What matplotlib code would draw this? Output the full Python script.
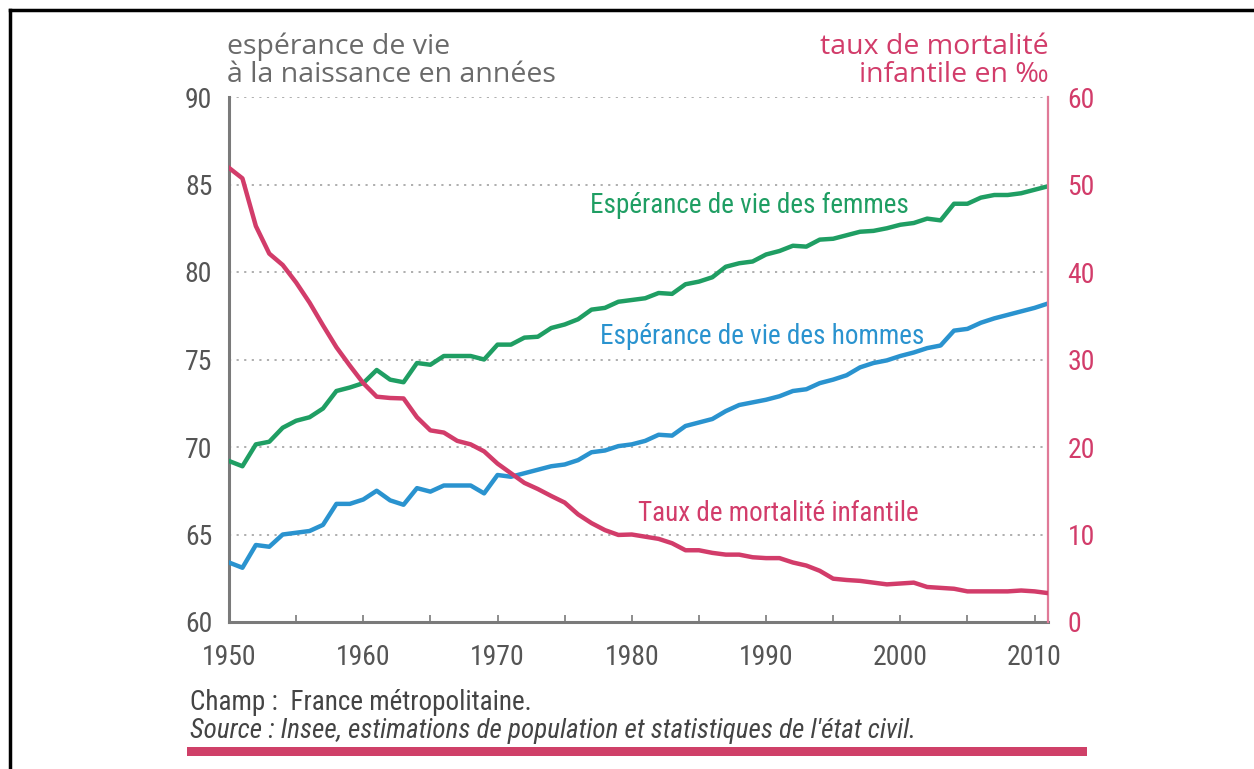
import matplotlib
matplotlib.use("Agg")
import matplotlib.pyplot as plt
from matplotlib import font_manager as fm
from matplotlib.lines import Line2D
from matplotlib.patches import Rectangle

# ---------------- data ----------------
years = list(range(1950, 2012))
women = [69.2, 68.9, 70.15, 70.3, 71.1, 71.5, 71.7, 72.2, 73.2, 73.4,
         73.65, 74.4, 73.85, 73.7, 74.8, 74.7, 75.2, 75.2, 75.2, 75.0,
         75.85, 75.85, 76.25, 76.3, 76.8, 77.0, 77.3, 77.85, 77.95, 78.3,
         78.4, 78.5, 78.8, 78.75, 79.3, 79.45, 79.7, 80.3, 80.5, 80.6,
         81.0, 81.2, 81.5, 81.45, 81.85, 81.9, 82.1, 82.3, 82.35, 82.5,
         82.7, 82.8, 83.05, 82.95, 83.9, 83.9, 84.25, 84.4, 84.4, 84.5,
         84.7, 84.9]
men = [63.4, 63.1, 64.4, 64.3, 65.0, 65.1, 65.2, 65.55, 66.75, 66.75,
       67.0, 67.5, 66.95, 66.7, 67.65, 67.45, 67.8, 67.8, 67.8, 67.35,
       68.4, 68.3, 68.5, 68.7, 68.9, 69.0, 69.25, 69.7, 69.8, 70.05,
       70.15, 70.35, 70.7, 70.65, 71.2, 71.4, 71.6, 72.05, 72.4, 72.55,
       72.7, 72.9, 73.2, 73.3, 73.65, 73.85, 74.1, 74.55, 74.8, 74.95,
       75.2, 75.4, 75.65, 75.8, 76.65, 76.75, 77.1, 77.35, 77.55, 77.75,
       77.95, 78.2]
infant = [51.9, 50.7, 45.25, 42.1, 40.8, 38.8, 36.5, 33.9, 31.4, 29.3,
          27.3, 25.75, 25.6, 25.55, 23.4, 21.9, 21.65, 20.7, 20.3, 19.5,
          18.1, 17.0, 15.9, 15.2, 14.4, 13.65, 12.3, 11.3, 10.5, 9.95,
          10.0, 9.75, 9.5, 9.0, 8.2, 8.2, 7.9, 7.7, 7.7, 7.4,
          7.3, 7.3, 6.8, 6.45, 5.85, 4.95, 4.8, 4.7, 4.5, 4.3,
          4.4, 4.5, 4.0, 3.9, 3.8, 3.5, 3.5, 3.5, 3.5, 3.6,
          3.5, 3.3]
x_ticks = [1950, 1960, 1970, 1980, 1990, 2000, 2010]
left_ticks = [60, 65, 70, 75, 80, 85, 90]
right_ticks = [0, 10, 20, 30, 40, 50, 60]

# ---------------- fonts ----------------
def pick(names):
    for n in names:
        try:
            fm.findfont(fm.FontProperties(family=n), fallback_to_default=False)
            return n
        except Exception:
            pass
    return "DejaVu Sans"

NARROW = pick(["Liberation Sans Narrow", "Roboto Condensed", "Open Sans Condensed", "Liberation Sans"])
TITLEF = pick(["Open Sans", "Lato", "Liberation Sans"])

GREEN = "#1f9e63"
BLUE = "#2a93cf"
PINK = "#d23c6a"
GRAY = "#555555"
AXGRAY = "#7a7a7a"

W, H = 1254, 769
fig = plt.figure(figsize=(W / 100, H / 100), dpi=100)
fig.patch.set_facecolor("white")

def fx(px):
    return px / W

def fy(py):
    return 1 - py / H

left, right, top, bottom = 229, 1048, 97, 622
ax = fig.add_axes([fx(left), fy(bottom), fx(right - left), (bottom - top) / H])
ax2 = ax.twinx()

ax.set_xlim(1950, 2011)
ax.set_ylim(60, 90)
ax2.set_ylim(0, 60)

ax.plot(years, women, color=GREEN, lw=3.2, zorder=3, solid_joinstyle="round")
ax.plot(years, men, color=BLUE, lw=3.2, zorder=3, solid_joinstyle="round")
ax2.plot(years, infant, color=PINK, lw=3.2, zorder=3, solid_joinstyle="round")

# grid
ax.set_yticks(left_ticks)
ax.yaxis.grid(True, linestyle=(0, (1.2, 3)), color="#a8a8a8", lw=1.3)
ax.set_axisbelow(True)

# spines
for a in (ax, ax2):
    a.spines["top"].set_visible(False)
ax.spines["right"].set_visible(False)
ax2.spines["left"].set_visible(False)
ax2.spines["bottom"].set_visible(False)
ax.spines["left"].set_color(AXGRAY)
ax.spines["left"].set_linewidth(2.2)
ax.spines["bottom"].set_color(AXGRAY)
ax.spines["bottom"].set_linewidth(2.2)
ax2.spines["right"].set_color("#e07a98")
ax2.spines["right"].set_linewidth(1.6)

ax.set_xticks(x_ticks)
ax.set_xticks([y for y in range(1955, 2011, 10)], minor=True)
ax.tick_params(axis="x", which="both", direction="in", length=5, width=1.2,
               color=AXGRAY, labelsize=20, labelcolor=GRAY, pad=16)
ax.tick_params(axis="y", direction="in", length=0, labelsize=20, labelcolor=GRAY, pad=12)
ax2.set_yticks(right_ticks)
ax2.tick_params(axis="y", direction="in", length=0, labelsize=20, labelcolor=PINK, pad=14)
for lab in ax.get_xticklabels() + ax.get_yticklabels() + ax2.get_yticklabels():
    lab.set_family(NARROW)

# axis titles
fig.text(fx(227), fy(89), "espérance de vie\nà la naissance en années", ha="left", va="bottom",
         fontsize=20.5, color="#6a6a6a", family=TITLEF, linespacing=1.02)
fig.text(fx(1049), fy(89), "taux de mortalité\ninfantile en ‰", ha="right", va="bottom",
         fontsize=20.5, color=PINK, family=TITLEF, linespacing=1.02, multialignment="right")

# annotations
ax.text(1976.9, 83.8, "Espérance de vie des femmes", color=GREEN, fontsize=19.5,
        family=NARROW, ha="left", va="center")
ax.text(1977.6, 76.3, "Espérance de vie des hommes", color=BLUE, fontsize=19.5,
        family=NARROW, ha="left", va="center")
ax2.text(1980.5, 12.4, "Taux de mortalité infantile", color=PINK, fontsize=19.5,
         family=NARROW, ha="left", va="center")

# footer
fig.text(fx(190), fy(703), "Champ :  France métropolitaine.", ha="left", va="center",
         fontsize=19.5, color="#444444", family=NARROW)
fig.text(fx(190), fy(731), "Source : Insee, estimations de population et statistiques de l'état civil.",
         ha="left", va="center", fontsize=19.5, color="#444444", family=NARROW, style="italic")
fig.patches.append(Rectangle((fx(187), fy(756)), fx(1087 - 187), 9 / H, transform=fig.transFigure,
                             facecolor="#cf4068", edgecolor="none"))

# frame lines (top and left)
fig.lines.append(Line2D([fx(10), 1.0], [fy(10), fy(10)], transform=fig.transFigure, color="black", lw=2.5))
fig.lines.append(Line2D([fx(10), fx(10)], [fy(10), 0.0], transform=fig.transFigure, color="black", lw=2.5))

fig.savefig("out.png", dpi=100)
